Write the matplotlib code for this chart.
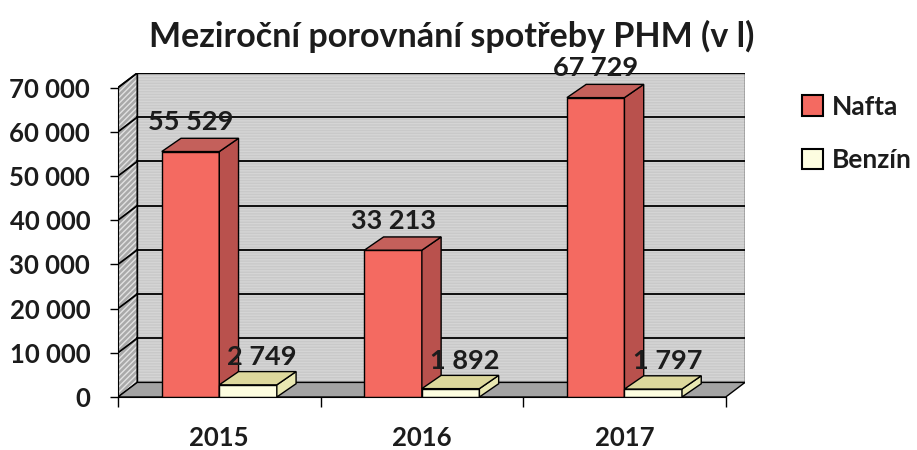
import matplotlib
matplotlib.use('Agg')
import matplotlib.pyplot as plt
from matplotlib.patches import Polygon, Rectangle, Patch

years = ['2015', '2016', '2017']
nafta = [55529, 33213, 67729]
benzin = [2749, 1892, 1797]
series_names = ['Nafta', 'Benzín']
y_ticks = [0, 10000, 20000, 30000, 40000, 50000, 60000, 70000]
y_tick_labels = ['0', '10 000', '20 000', '30 000', '40 000', '50 000', '60 000', '70 000']
title = 'Meziroční porovnání spotřeby PHM (v l)'

plt.rcParams['font.family'] = ['Lato', 'DejaVu Sans']
plt.rcParams['font.weight'] = 'bold'
plt.rcParams['hatch.linewidth'] = 1.0

TXT = '#1c1c1c'
NAFTA_FRONT = '#f46a61'
NAFTA_TOP = '#c4605b'
NAFTA_SIDE = '#b9514d'
BENZ_FRONT = '#fdfde0'
BENZ_TOP = '#ddd89c'
BENZ_SIDE = '#e9e8b2'

# depth of the fake 3d box (x in category units, y in litres)
dx, dy = 0.095, 3300
bdx, bdy = 0.095, 3000
bw = 0.284
ymax = y_ticks[-1]
n = len(years)

fig = plt.figure(figsize=(9.17, 4.5), dpi=100)
ax = fig.add_axes([118 / 917, 53 / 450, (745 - 118) / 917, (397 - 73) / 450])
ax.set_xlim(0, n + dx)
ax.set_ylim(0, ymax + dy)

# walls and floor
ax.add_patch(Rectangle((dx, dy), n, ymax, fc='#c9c9c9', ec='#d5d5d5', lw=0, hatch='------', zorder=1))
ax.add_patch(Rectangle((dx, dy), n, ymax, fc='none', ec='k', lw=1, zorder=2))
left = [(0, 0), (dx, dy), (dx, ymax + dy), (0, ymax)]
ax.add_patch(Polygon(left, fc='#a9a9a9', ec='#e2e2e2', lw=0, hatch='//////', zorder=1))
ax.add_patch(Polygon(left, fc='none', ec='k', lw=1, zorder=2))
ax.add_patch(Polygon([(0, 0), (n, 0), (n + dx, dy), (dx, dy)], fc='#a3a3a3', ec='k', lw=1, zorder=2))

for v in y_ticks[1:]:
    ax.plot([dx, n + dx], [v + dy, v + dy], color='k', lw=1.3, zorder=3)
    ax.plot([0, dx], [v, v + dy], color='k', lw=1.3, zorder=3)


def bar3d(x0, v, front, top, side):
    ax.add_patch(Rectangle((x0, 0), bw, v, fc=front, ec='k', lw=1, zorder=5))
    ax.add_patch(Polygon([(x0 + bw, 0), (x0 + bw + bdx, bdy), (x0 + bw + bdx, v + bdy), (x0 + bw, v)],
                         fc=side, ec='k', lw=1, zorder=5))
    ax.add_patch(Polygon([(x0, v), (x0 + bw, v), (x0 + bw + bdx, v + bdy), (x0 + bdx, v + bdy)],
                         fc=top, ec='k', lw=1, zorder=5))


for i in range(n):
    x_n = i + 0.5 - bw
    x_b = i + 0.5
    bar3d(x_n, nafta[i], NAFTA_FRONT, NAFTA_TOP, NAFTA_SIDE)
    bar3d(x_b, benzin[i], BENZ_FRONT, BENZ_TOP, BENZ_SIDE)
    ax.annotate(f'{nafta[i]:,}'.replace(',', ' '), (x_n + bw / 2, nafta[i]), xytext=(0, 21),
                textcoords='offset points', ha='center', va='center', fontsize=19.5,
                fontweight='bold', color=TXT, zorder=6)
    ax.annotate(f'{benzin[i]:,}'.replace(',', ' '), (x_b + bw / 2 + 0.07, benzin[i]), xytext=(0, 20),
                textcoords='offset points', ha='center', va='center', fontsize=19.5,
                fontweight='bold', color=TXT, zorder=6)

for s in ['top', 'right']:
    ax.spines[s].set_visible(False)
ax.spines['left'].set_bounds(0, ymax)
ax.spines['bottom'].set_bounds(0, n)
ax.spines['left'].set_zorder(7)
ax.spines['bottom'].set_zorder(7)

ax.set_yticks(y_ticks)
ax.set_yticklabels(y_tick_labels)
ax.tick_params(axis='y', length=6, width=1, pad=14, labelsize=18.5, labelcolor=TXT)
ax.set_xticks(range(n + 1))
ax.set_xticklabels([])
ax.tick_params(axis='x', which='major', length=7, width=1)
ax.set_xticks([i + 0.5 for i in range(n)], minor=True)
ax.set_xticklabels(years, minor=True)
ax.tick_params(axis='x', which='minor', length=0, pad=21, labelsize=18.5, labelcolor=TXT)
for lbl in ax.get_yticklabels() + ax.get_xticklabels(minor=True):
    lbl.set_fontweight('bold')

fig.text(452 / 917, 1 - 36 / 450, title, ha='center', va='center', fontsize=24.5,
         fontweight='bold', color=TXT)

handles = [Patch(fc=NAFTA_FRONT, ec='k', lw=1.5), Patch(fc=BENZ_FRONT, ec='k', lw=1.5)]
leg = fig.legend(handles, series_names, loc='upper left', bbox_to_anchor=(778 / 917, 1 - 71 / 450),
                 frameon=False, handlelength=0.8, handleheight=0.8, handletextpad=0.35,
                 labelspacing=1.1, prop={'size': 19, 'weight': 'bold'})
for t in leg.get_texts():
    t.set_color(TXT)

fig.savefig('out.png', dpi=100, facecolor='white')
